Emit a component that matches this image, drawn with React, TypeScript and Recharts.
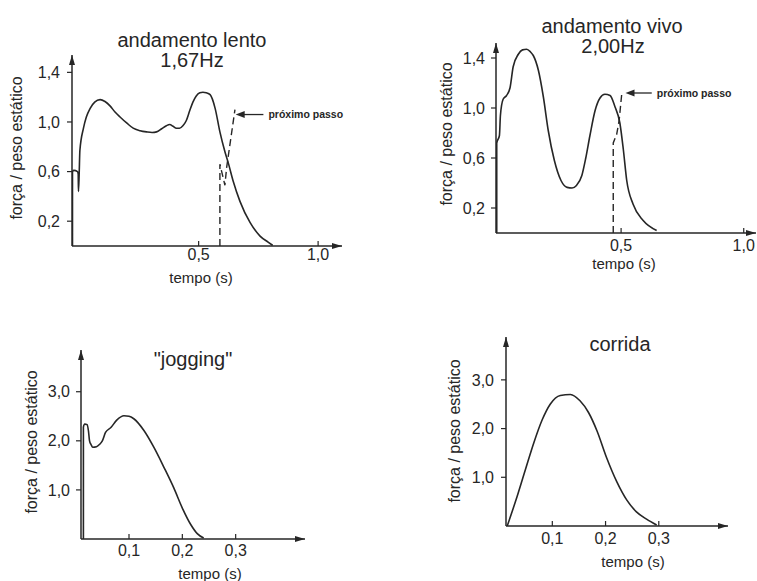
import React from 'react';
import { LineChart, Line, XAxis, YAxis, ReferenceLine } from 'recharts';

const FONT = '"Liberation Sans", Arial, Helvetica, sans-serif';
const INK = '#262626';

// ---- andamento lento 1,67Hz ----
const lentoT = [-0.028, -0.028, -0.022, -0.007, -0.004, -0.003, 0.0, 0.003, 0.018, 0.03, 0.046, 0.065, 0.0875, 0.108, 0.129, 0.15, 0.171, 0.2, 0.226, 0.255, 0.282, 0.305, 0.324, 0.345, 0.365, 0.379, 0.393, 0.407, 0.42, 0.434, 0.448, 0.4625, 0.476, 0.49, 0.505, 0.518, 0.532, 0.548, 0.569, 0.589, 0.61, 0.624, 0.645, 0.673, 0.715, 0.757, 0.792, 0.81];
const lentoF = [0, 0.6, 0.61, 0.6, 0.58, 0.44, 0.58, 0.77, 0.95, 1.04, 1.11, 1.16, 1.18, 1.165, 1.13, 1.08, 1.04, 0.99, 0.95, 0.93, 0.92, 0.915, 0.92, 0.945, 0.97, 0.98, 0.965, 0.95, 0.95, 0.97, 1.01, 1.09, 1.16, 1.21, 1.235, 1.24, 1.235, 1.22, 1.11, 0.92, 0.76, 0.67, 0.52, 0.36, 0.19, 0.08, 0.03, 0.005];
const lentoNextT = [0.589, 0.589, 0.61, 0.617, 0.652];
const lentoNextF = [0, 0.66, 0.49, 0.63, 1.1];

// ---- andamento vivo 2,00Hz ----
const vivoT = [-0.007, -0.007, 0.004, 0.008, 0.019, 0.033, 0.047, 0.06, 0.081, 0.098, 0.115, 0.13, 0.142, 0.163, 0.183, 0.203, 0.228, 0.255, 0.28, 0.3, 0.318, 0.34, 0.356, 0.373, 0.394, 0.414, 0.434, 0.455, 0.475, 0.495, 0.509, 0.523, 0.549, 0.59, 0.645];
const vivoF = [0, 0.72, 0.78, 0.94, 1.07, 1.1, 1.16, 1.33, 1.43, 1.465, 1.47, 1.45, 1.42, 1.3, 1.09, 0.82, 0.58, 0.42, 0.365, 0.36, 0.38, 0.46, 0.6, 0.78, 0.98, 1.08, 1.11, 1.1, 1.01, 0.88, 0.67, 0.42, 0.23, 0.1, 0.02];
const vivoNextT = [0.468, 0.468, 0.482, 0.492, 0.503];
const vivoNextF = [0, 0.72, 0.79, 0.9, 1.12];

// ---- "jogging" ----
const jogT = [0.0145, 0.0145, 0.017, 0.0216, 0.024, 0.026, 0.029, 0.032, 0.039, 0.045, 0.05, 0.056, 0.066, 0.077, 0.0906, 0.1, 0.109, 0.128, 0.147, 0.166, 0.184, 0.2, 0.216, 0.228, 0.24];
const jogF = [0, 2.28, 2.34, 2.33, 2.2, 2.0, 1.92, 1.87, 1.88, 1.93, 2.0, 2.17, 2.27, 2.42, 2.51, 2.5, 2.45, 2.21, 1.86, 1.45, 1.04, 0.63, 0.29, 0.11, 0.02];

// ---- corrida ----
const corT = [0.0153, 0.034, 0.0495, 0.065, 0.081, 0.096, 0.115, 0.134, 0.152, 0.168, 0.184, 0.202, 0.221, 0.24, 0.258, 0.277, 0.296];
const corF = [0, 0.61, 1.16, 1.7, 2.18, 2.5, 2.68, 2.7, 2.57, 2.33, 1.95, 1.4, 0.91, 0.53, 0.29, 0.14, 0.02];

// ---- ticks & texts ----
const walkYTicks = [0.2, 0.6, 1.0, 1.4];
const walkXTicks = [0.5, 1.0];
const runYTicks = [1, 2, 3];
const runXTicks = [0.1, 0.2, 0.3];
const yLabel = 'força / peso estático';
const xLabel = 'tempo (s)';
const nextLabel = 'próximo passo';

type Pt = { t: number; f: number };
const zip = (t: number[], f: number[]): Pt[] => t.map((v, i) => ({ t: v, f: f[i] }));
const fmt = (v: number) => Number(v).toFixed(1).replace('.', ',');

const ArrowShape = (p: any) => {
  const { x1, y1, x2 } = p;
  const ax = Math.min(x1, x2);
  const bx = Math.max(x1, x2);
  return (
    <g>
      <line x1={ax + 6} y1={y1} x2={bx} y2={y1} stroke={INK} strokeWidth={1.3} />
      <path d={`M${ax},${y1} L${ax + 9},${y1 - 3.5} L${ax + 9},${y1 + 3.5} Z`} fill={INK} />
    </g>
  );
};

interface PanelProps {
  id: string;
  left: number;
  top: number;
  width: number;
  height: number;
  margin: { top: number; right: number; bottom: number; left: number };
  xDomain: [number, number];
  yDomain: [number, number];
  xTicks: number[];
  yTicks: number[];
  xTickMargin: number;
  yTickMargin: number;
  main: Pt[];
  next?: Pt[];
  arrow?: { x1: number; x2: number; y: number };
}

const Panel = (p: PanelProps) => {
  const mk = `ah-${p.id}`;
  return (
    <div style={{ position: 'absolute', left: p.left, top: p.top, width: p.width, height: p.height }}>
      <LineChart width={p.width} height={p.height} margin={p.margin}>
        <defs>
          <marker id={mk} viewBox="0 0 10 6" refX="10" refY="3" markerWidth="10" markerHeight="6" markerUnits="userSpaceOnUse" orient="auto-start-reverse">
            <path d="M0,0 L10,3 L0,6 z" fill={INK} />
          </marker>
        </defs>
        <XAxis
          type="number"
          dataKey="t"
          domain={p.xDomain}
          ticks={p.xTicks}
          allowDataOverflow
          interval={0}
          tickFormatter={fmt}
          tickSize={-5}
          tickMargin={p.xTickMargin}
          height={30}
          axisLine={{ stroke: INK, strokeWidth: 1.5, markerEnd: `url(#${mk})` }}
          tickLine={{ stroke: INK, strokeWidth: 1.2 }}
          tick={{ fill: INK, fontSize: 16, fontFamily: FONT }}
        />
        <YAxis
          type="number"
          domain={p.yDomain}
          ticks={p.yTicks}
          allowDataOverflow
          interval={0}
          tickFormatter={fmt}
          width={40}
          tickSize={5}
          tickMargin={p.yTickMargin}
          axisLine={{ stroke: INK, strokeWidth: 1.5, markerStart: `url(#${mk})` }}
          tickLine={{ stroke: INK, strokeWidth: 1.2 }}
          tick={{ fill: INK, fontSize: 16, fontFamily: FONT }}
        />
        <Line data={p.main} dataKey="f" type="monotone" stroke={INK} strokeWidth={1.6} dot={false} activeDot={false} isAnimationActive={false} />
        {p.next && (
          <Line data={p.next} dataKey="f" type="linear" stroke={INK} strokeWidth={1.4} strokeDasharray="7 4" dot={false} activeDot={false} isAnimationActive={false} />
        )}
        {p.arrow && (
          <ReferenceLine
            segment={[{ x: p.arrow.x1, y: p.arrow.y }, { x: p.arrow.x2, y: p.arrow.y }]}
            shape={ArrowShape}
            label={{ value: nextLabel, position: 'right', offset: 5, fill: INK, fontSize: 10.5, fontWeight: 700, fontFamily: FONT }}
          />
        )}
      </LineChart>
    </div>
  );
};

const titles: { text: string; x: number; y: number }[] = [
  { text: 'andamento lento', x: 192, y: 47 },
  { text: '1,67Hz', x: 192, y: 67 },
  { text: 'andamento vivo', x: 612, y: 33 },
  { text: '2,00Hz', x: 613, y: 53 },
  { text: '"jogging"', x: 193, y: 366 },
  { text: 'corrida', x: 620, y: 351 },
];
const xLabels = [
  { x: 201, y: 283 },
  { x: 624, y: 269 },
  { x: 210, y: 579 },
  { x: 633, y: 567 },
];
const yLabels = [
  { x: 22, y: 148 },
  { x: 452, y: 134 },
  { x: 37, y: 442 },
  { x: 460, y: 431 },
];

export default function App() {
  return (
    <div style={{ position: 'absolute', left: 0, top: 0, width: 757, height: 581, background: '#fff', overflow: 'hidden', fontFamily: FONT }}>
      <Panel
        id="p1" left={0} top={0} width={378} height={290}
        margin={{ top: 55, right: 36, bottom: 14, left: 32 }}
        xDomain={[-0.03, 1.1]} yDomain={[0, 1.54]}
        xTicks={walkXTicks} yTicks={walkYTicks} xTickMargin={8} yTickMargin={7}
        main={zip(lentoT, lentoF)} next={zip(lentoNextT, lentoNextF)}
        arrow={{ x1: 0.655, x2: 0.771, y: 1.06 }}
      />
      <Panel
        id="p2" left={378} top={0} width={379} height={290}
        margin={{ top: 43, right: 1, bottom: 27, left: 78 }}
        xDomain={[-0.01, 1.05]} yDomain={[0, 1.52]}
        xTicks={walkXTicks} yTicks={walkYTicks} xTickMargin={12} yTickMargin={6}
        main={zip(vivoT, vivoF)} next={zip(vivoNextT, vivoNextF)}
        arrow={{ x1: 0.518, x2: 0.625, y: 1.12 }}
      />
      <Panel
        id="p3" left={0} top={290} width={378} height={291}
        margin={{ top: 60, right: 73, bottom: 12, left: 41 }}
        xDomain={[0.01, 0.43]} yDomain={[0, 3.85]}
        xTicks={runXTicks} yTicks={runYTicks} xTickMargin={11} yTickMargin={6}
        main={zip(jogT, jogF)}
      />
      <Panel
        id="p4" left={378} top={290} width={379} height={291}
        margin={{ top: 47, right: 29, bottom: 25, left: 88 }}
        xDomain={[0.013, 0.43]} yDomain={[0, 3.88]}
        xTicks={runXTicks} yTicks={runYTicks} xTickMargin={12} yTickMargin={7}
        main={zip(corT, corF)}
      />
      <svg width={757} height={581} style={{ position: 'absolute', left: 0, top: 0, pointerEvents: 'none' }} fontFamily={FONT} fill={INK}>
        {titles.map((t, i) => (
          <text key={`t${i}`} x={t.x} y={t.y} textAnchor="middle" fontSize={20}>{t.text}</text>
        ))}
        {xLabels.map((t, i) => (
          <text key={`x${i}`} x={t.x} y={t.y} textAnchor="middle" fontSize={15}>{xLabel}</text>
        ))}
        {yLabels.map((t, i) => (
          <text key={`y${i}`} x={t.x} y={t.y} textAnchor="middle" fontSize={16} transform={`rotate(-90 ${t.x} ${t.y})`}>{yLabel}</text>
        ))}
      </svg>
    </div>
  );
}
